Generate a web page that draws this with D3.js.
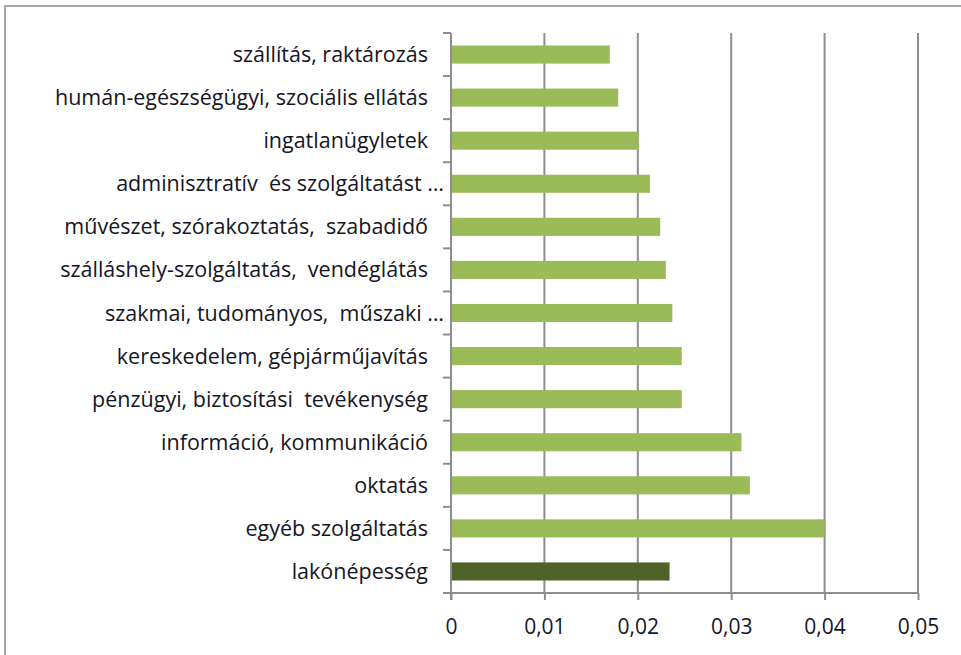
<!DOCTYPE html>
<html lang="hu">
<head>
<meta charset="UTF-8">
<title>Chart</title>
<style>
  body { margin: 0; background: #fff; }
  svg text { font-family: "Open Sans", "Noto Sans", sans-serif; fill: #15151f; }
</style>
</head>
<body>
<svg width="961" height="655"></svg>
<script src="https://cdn.jsdelivr.net/npm/d3@7"></script>
<script>
// categories top to bottom, as in the picture
var categories = [
  "szállítás, raktározás",
  "humán-egészségügyi, szociális ellátás",
  "ingatlanügyletek",
  "adminisztratív  és szolgáltatást …",
  "művészet, szórakoztatás,  szabadidő",
  "szálláshely-szolgáltatás,  vendéglátás",
  "szakmai, tudományos,  műszaki …",
  "kereskedelem, gépjárműjavítás",
  "pénzügyi, biztosítási  tevékenység",
  "információ, kommunikáció",
  "oktatás",
  "egyéb szolgáltatás",
  "lakónépesség"
];
var values = [0.0170, 0.0179, 0.0201, 0.0213, 0.0224, 0.0230, 0.0237, 0.0247, 0.0247, 0.0311, 0.0320, 0.0400, 0.0234];
var highlight = ["lakónépesség"];
var xTicks = [0, 0.01, 0.02, 0.03, 0.04, 0.05];

var svg = d3.select("svg");
var plotL = 451, plotR = 918, plotT = 33, plotB = 593;

// chart frame (runs off the right and bottom edge like the screenshot)
svg.append("rect")
  .attr("x", 5).attr("y", 6).attr("width", 1000).attr("height", 700)
  .attr("fill", "none").attr("stroke", "#a6a6a6").attr("stroke-width", 2);

var x = d3.scaleLinear().domain([0, 0.05]).range([plotL, plotR]);
var y = d3.scaleBand().domain(categories).range([plotT, plotB]).paddingInner(0.58).paddingOuter(0.29);
var step = y.step();

var grid = "#8e8e8e";

// vertical gridlines
svg.append("g").selectAll("line").data(xTicks.slice(1)).enter().append("line")
  .attr("x1", function (d) { return x(d); }).attr("x2", function (d) { return x(d); })
  .attr("y1", plotT).attr("y2", plotB)
  .attr("stroke", grid).attr("stroke-width", 2);

// bars
svg.append("g").selectAll("rect").data(categories).enter().append("rect")
  .attr("x", x(0))
  .attr("y", function (d) { return y(d); })
  .attr("width", function (d, i) { return x(values[i]) - x(0); })
  .attr("height", y.bandwidth())
  .attr("fill", function (d) { return highlight.indexOf(d) >= 0 ? "#4f6228" : "#9bbb59"; });

// left axis line + category tick marks
svg.append("line").attr("x1", plotL).attr("x2", plotL).attr("y1", plotT).attr("y2", plotB + 7)
  .attr("stroke", grid).attr("stroke-width", 2);
svg.append("g").selectAll("line").data(d3.range(categories.length)).enter().append("line")
  .attr("x1", plotL - 8).attr("x2", plotL)
  .attr("y1", function (i) { return plotT + i * step; })
  .attr("y2", function (i) { return plotT + i * step; })
  .attr("stroke", grid).attr("stroke-width", 2);

// category labels
svg.append("g").selectAll("text").data(categories).enter().append("text")
  .attr("x", function (d) { return /…$/.test(d) ? 444 : 428; })
  .attr("y", function (d) { return y(d) + y.bandwidth() / 2; })
  .attr("dy", "0.35em")
  .attr("text-anchor", "end")
  .style("white-space", "pre")
  .style("font-size", "21.5px")
  .text(function (d) { return d; });

// bottom axis
var xAxis = d3.axisBottom(x).tickValues(xTicks).tickSize(7).tickPadding(19)
  .tickFormat(function (d) { return d === 0 ? "0" : d3.format(".2f")(d).replace(".", ","); });
var gx = svg.append("g").attr("transform", "translate(0," + plotB + ")").call(xAxis);
gx.select(".domain").attr("d", "M" + (plotL - 8) + ",0H" + plotR).attr("stroke", grid).attr("stroke-width", 2);
gx.selectAll(".tick line").attr("stroke", grid).attr("stroke-width", 2);
gx.selectAll(".tick text").style("font-size", "21px").attr("fill", "#15151f")
  .style("font-family", "'Open Sans', 'Noto Sans', sans-serif");
</script>
</body>
</html>
